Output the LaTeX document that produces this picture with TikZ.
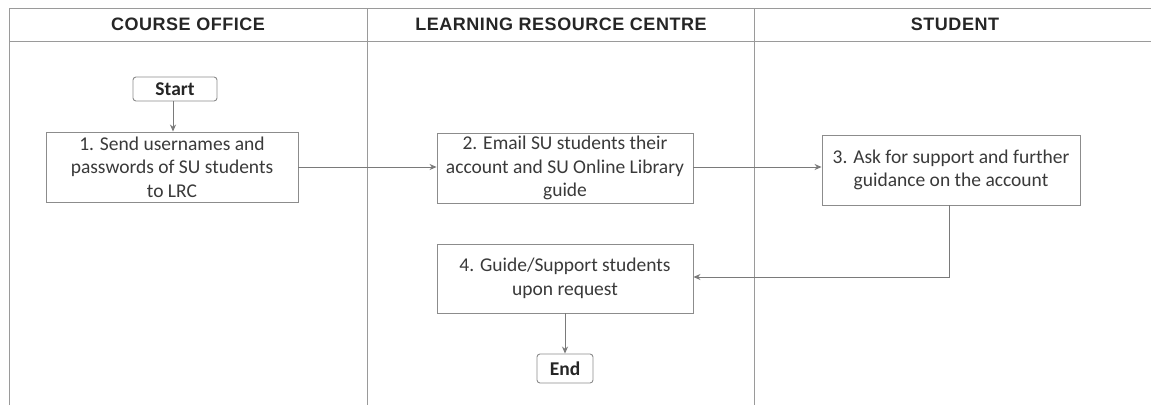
\documentclass[tikz,border=0pt]{standalone}
\usepackage{fontspec}
\setmainfont{Carlito}
\newfontfamily\headfont[LetterSpace=3]{Liberation Sans}
\usetikzlibrary{arrows.meta}
\definecolor{laneline}{HTML}{9A9A9A}
\definecolor{boxline}{HTML}{8C8C8C}
\definecolor{flowline}{HTML}{7A7A7A}
\definecolor{txt}{HTML}{3A3A3A}
\definecolor{headtxt}{HTML}{262626}
\begin{document}
\begin{tikzpicture}[x=1pt,y=-1pt,
  lane/.style={draw=laneline,line width=0.9pt},
  head/.style={font=\headfont\bfseries\fontsize{18}{20}\selectfont,text=headtxt,inner sep=0pt},
  stepbox/.style={draw=boxline,line width=0.9pt,fill=white,text=txt,align=center,
    font=\fontsize{19.5}{23.5}\selectfont,inner sep=2pt},
  terminal/.style={draw=boxline,line width=0.9pt,rounded corners=3pt,fill=white,text=headtxt,
    font=\bfseries\fontsize{19.5}{22}\selectfont,inner sep=0pt},
  flow/.style={draw=flowline,line width=0.9pt,-{Stealth[length=7pt,width=6pt]}}]
  \useasboundingbox (0,0) rectangle (1151,405);
  \fill[white] (0,0) rectangle (1151,405);

  % swimlane frame
  \draw[lane] (9,405) -- (9,8) -- (1151,8);
  \draw[lane] (9,41.5) -- (1151,41.5);
  \draw[lane] (367,8) -- (367,405);
  \draw[lane] (754,8) -- (754,405);

  % lane titles
  \node[head] (h1) at (188,24.5) {COURSE OFFICE};
  \node[head] (h2) at (561,24.5) {LEARNING RESOURCE CENTRE};
  \node[head] (h3) at (955,24.5) {STUDENT};

  % process steps
  \node[terminal,minimum width=84pt,minimum height=24pt] (start) at (175,89) {Start};
  \node[stepbox,minimum width=252pt,minimum height=70pt] (b1) at (172,167)
    {1. Send usernames and\\passwords of SU students\\to LRC};
  \node[stepbox,minimum width=256pt,minimum height=70pt] (b2) at (565,168)
    {2. Email SU students their\\account and SU Online Library\\guide};
  \node[stepbox,minimum width=258pt,minimum height=70pt] (b3) at (951,170)
    {3. Ask for support and further\\guidance on the account};
  \node[stepbox,minimum width=256pt,minimum height=69pt] (b4) at (565,278.5)
    {4. Guide/Support students\\upon request};
  \node[terminal,minimum width=56pt,minimum height=29pt] (end) at (565,368.5) {End};

  % connectors
  \draw[flow] ([xshift=-2pt]start.south) -- ([xshift=-2pt]start.south |- b1.north);
  \draw[flow] (b1.east) -- (b1.east -| b2.west);
  \draw[flow] ([yshift=1pt]b2.east) -- ([yshift=1pt]b2.east -| b3.west);
  \draw[flow] ([xshift=-2pt]b3.south) |- ([yshift=1.5pt]b4.east);
  \draw[flow] (b4.south) -- (end.north);
\end{tikzpicture}
\end{document}
